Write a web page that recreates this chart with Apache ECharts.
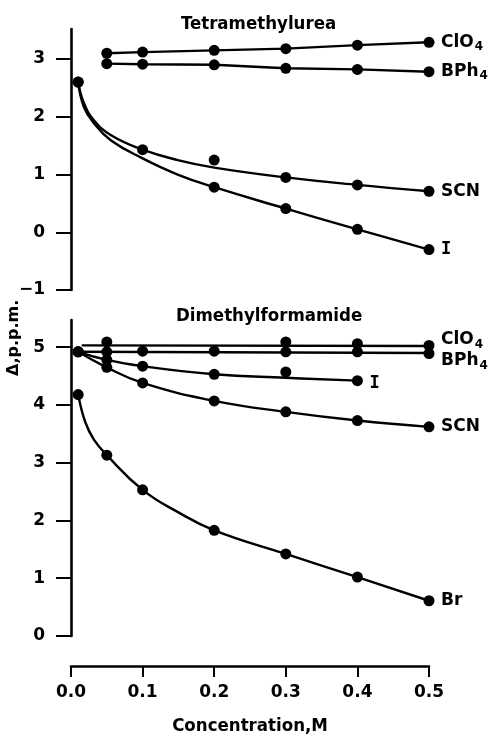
<!DOCTYPE html>
<html>
<head>
<meta charset="UTF-8">
<title>Δ vs concentration</title>
<script src="https://cdn.jsdelivr.net/npm/echarts@6/dist/echarts.min.js"></script>
<style>
  body { margin: 0; background: #fff; }
  #chart { width: 499px; height: 737px; }
</style>
</head>
<body>
<div id="chart"></div>
<script>
// x ticks / y ticks
const xTicks = [0, 0.1, 0.2, 0.3, 0.4, 0.5];
const tmuTicks = [-1, 0, 1, 2, 3];
const dmfTicks = [0, 1, 2, 3, 4, 5];

// Tetramethylurea: measured points [M, ppm]
const tmuClO4 = [[0.05, 3.10], [0.1, 3.12], [0.2, 3.15], [0.3, 3.18], [0.4, 3.24], [0.5, 3.29]];
const tmuBPh4 = [[0.05, 2.92], [0.1, 2.91], [0.2, 2.90], [0.3, 2.84], [0.4, 2.82], [0.5, 2.78]];
const tmuSCN = [[0.01, 2.60], [0.1, 1.43], [0.2, 1.25], [0.3, 0.95], [0.4, 0.82], [0.5, 0.71]];
const tmuI = [[0.01, 2.60], [0.2, 0.78], [0.3, 0.41], [0.4, 0.05], [0.5, -0.30]];
// drawn curves
const tmuSCNCurve = [[0.01, 2.60], [0.018, 2.24], [0.032, 1.94], [0.056, 1.68], [0.1, 1.43],
  [0.149, 1.25], [0.2, 1.12], [0.3, 0.95], [0.4, 0.82], [0.5, 0.71]];
const tmuICurve = [[0.01, 2.60], [0.018, 2.17], [0.032, 1.89], [0.056, 1.59], [0.1, 1.28], [0.149, 1.00],
  [0.2, 0.78], [0.3, 0.41], [0.4, 0.05], [0.5, -0.30]];

// Dimethylformamide
const dmfClO4 = [[0.05, 5.09], [0.3, 5.09], [0.4, 5.06], [0.5, 5.03]];
const dmfBPh4 = [[0.01, 4.92], [0.05, 4.92], [0.1, 4.93], [0.2, 4.93], [0.3, 4.92], [0.4, 4.92], [0.5, 4.89]];
const dmfI = [[0.01, 4.92], [0.05, 4.78], [0.1, 4.67], [0.2, 4.53], [0.3, 4.57], [0.4, 4.42]];
const dmfSCN = [[0.01, 4.92], [0.05, 4.65], [0.1, 4.38], [0.2, 4.07], [0.3, 3.88], [0.4, 3.73], [0.5, 3.62]];
const dmfBr = [[0.01, 4.18], [0.05, 3.13], [0.1, 2.53], [0.2, 1.83], [0.3, 1.42], [0.4, 1.02], [0.5, 0.61]];
const dmfClO4Line = [[0.015, 5.03], [0.5, 5.02]];
const dmfBPh4Line = [[0.01, 4.92], [0.5, 4.90]];
const dmfICurve = [[0.01, 4.92], [0.05, 4.78], [0.1, 4.67], [0.2, 4.53], [0.3, 4.47], [0.4, 4.42]];
const dmfBrCurve = [[0.01, 4.18], [0.02, 3.70], [0.032, 3.40], [0.05, 3.13], [0.1, 2.53], [0.15, 2.14],
  [0.2, 1.83], [0.3, 1.42], [0.4, 1.02], [0.5, 0.61]];

const FONT = 'DejaVu Sans';
const COND = 'DejaVu Sans Condensed';
const rich = {
  t: { fontFamily: FONT, fontWeight: 'bold', fontSize: 17, color: '#000' },
  s: { fontFamily: FONT, fontWeight: 'bold', fontSize: 12, color: '#000', padding: [9, 0, 0, 1] },
  r: { fontFamily: 'DejaVu Sans Mono', fontWeight: 'bold', fontSize: 17, color: '#000' }
};

function line(idx, data, label, offset, smooth) {
  return {
    type: 'line', xAxisIndex: idx, yAxisIndex: idx, data: data,
    showSymbol: false, smooth: smooth ? 0.45 : false,
    lineStyle: { color: '#000', width: 2.4 }, silent: true, z: 2,
    endLabel: label ? { show: true, formatter: label, rich: rich, distance: 12, offset: offset || [0, 0] } : { show: false }
  };
}
function dots(idx, data) {
  return {
    type: 'scatter', xAxisIndex: idx, yAxisIndex: idx, data: data,
    symbol: 'circle', symbolSize: 11, itemStyle: { color: '#000', opacity: 1 }, silent: true, z: 3
  };
}

function yAxis(idx, min, max, ticks) {
  return {
    type: 'value', gridIndex: idx, min: min, max: max,
    splitLine: { show: false },
    axisLine: { show: true, onZero: false, lineStyle: { color: '#000', width: 2.6 } },
    axisTick: { show: true, length: 15, customValues: ticks, lineStyle: { color: '#000', width: 2 } },
    axisLabel: {
      customValues: ticks, margin: 26, color: '#000', fontFamily: FONT, fontWeight: 'bold', fontSize: 17,
      formatter: v => String(v).replace('-', '\u2212')
    }
  };
}

const chart = echarts.init(document.getElementById('chart'), null, { renderer: 'canvas' });
chart.setOption({
  backgroundColor: '#fff',
  animation: false,
  title: [
    { text: 'Tetramethylurea', left: 176, top: 10,
      textStyle: { fontFamily: COND, fontWeight: 'bold', fontSize: 18.5, color: '#000' } },
    { text: 'Dimethylformamide', left: 171, top: 302,
      textStyle: { fontFamily: COND, fontWeight: 'bold', fontSize: 18.5, color: '#000' } }
  ],
  graphic: [{
    type: 'text', x: 6, y: 376, rotation: Math.PI / 2,
    style: { text: 'Δ,p.p.m.', fontFamily: FONT, fontWeight: 'bold', fontSize: 16, fill: '#000' }
  }],
  grid: [
    { left: 71, right: 70, top: 29, height: 261 },
    { left: 71, right: 70, top: 320, height: 316 }
  ],
  xAxis: [
    { type: 'value', gridIndex: 0, min: 0, max: 0.5, show: false },
    {
      type: 'value', gridIndex: 1, min: 0, max: 0.5, interval: 0.1, offset: 30,
      name: 'Concentration,M', nameLocation: 'middle', nameGap: 51,
      nameTextStyle: { fontFamily: COND, fontWeight: 'bold', fontSize: 18.5, color: '#000' },
      splitLine: { show: false },
      axisLine: { show: true, onZero: false, lineStyle: { color: '#000', width: 2.6 } },
      axisTick: { show: true, length: 11, customValues: xTicks, lineStyle: { color: '#000', width: 2 } },
      axisLabel: {
        customValues: xTicks, margin: 18, color: '#000', fontFamily: FONT, fontWeight: 'bold', fontSize: 17,
        formatter: v => v.toFixed(1)
      }
    }
  ],
  yAxis: [yAxis(0, -1, 3.52, tmuTicks), yAxis(1, 0, 5.47, dmfTicks)],
  series: [
    line(0, tmuClO4, '{t|ClO}{s|4}', [0, 0], false),
    line(0, tmuBPh4, '{t|BPh}{s|4}', [0, 0], false),
    line(0, tmuSCNCurve, '{t|SCN}', [0, 0], true),
    line(0, tmuICurve, '{r|I}', [0, 0], true),
    dots(0, tmuClO4), dots(0, tmuBPh4), dots(0, tmuSCN), dots(0, tmuI),

    line(1, dmfClO4Line, '{t|ClO}{s|4}', [0, -6], false),
    line(1, dmfBPh4Line, '{t|BPh}{s|4}', [0, 8], false),
    line(1, dmfICurve, '{r|I}', [0, 3], true),
    line(1, dmfSCN, '{t|SCN}', [0, 0], true),
    line(1, dmfBrCurve, '{t|Br}', [0, 0], true),
    dots(1, dmfClO4), dots(1, dmfBPh4), dots(1, dmfI), dots(1, dmfSCN), dots(1, dmfBr)
  ]
});
</script>
</body>
</html>
